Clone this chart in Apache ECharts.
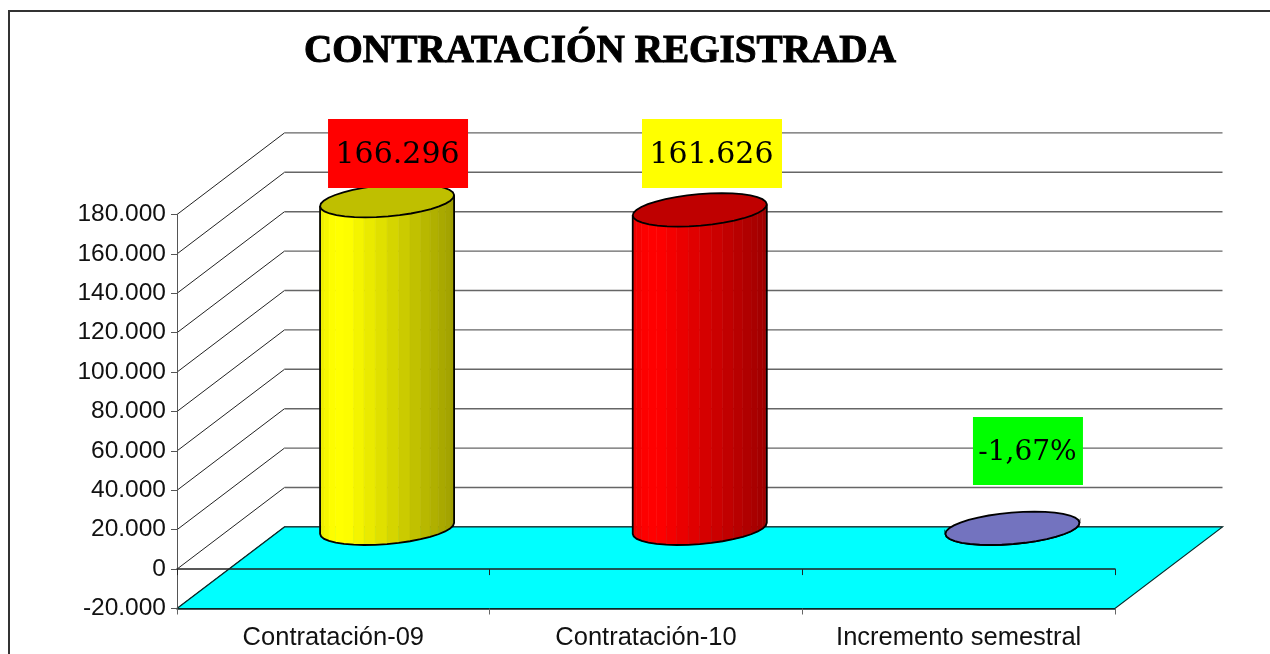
<!DOCTYPE html>
<html><head><meta charset="utf-8">
<style>html,body{margin:0;padding:0;background:#fff}#c{width:1270px;height:654px}</style>
<script src="https://cdn.jsdelivr.net/npm/echarts@6/dist/echarts.min.js"></script>
</head><body><div id="c"></div>
<script>
const titleText = 'CONTRATACIÓN REGISTRADA';
const categories = ['Contratación-09', 'Contratación-10', 'Incremento semestral'];
const values = [166296, 161626, -1.67];
const valueLabels = ['166.296', '161.626', '-1,67%'];
const yTicks = [-20000, 0, 20000, 40000, 60000, 80000, 100000, 120000, 140000, 160000, 180000];
const barColors = [[255, 255, 0], [255, 0, 0], [153, 153, 255]];
const labelColors = ['#ff0000', '#ffff00', '#00ff00'];
const labelBoxSize = [[140, 69], [140, 69], [110, 68]];
const labelOffsets = [[64.7, -88], [66, -97.2], [69.3, -118]];
const labelFontSizes = [30, 30, 28];

const DX = 107.5, DY = 81.6, RX = 63.3, RY = 16.7, SHEAR = 22, FACETS = 18;
const rgb = (c, s) => 'rgb(' + c.map(v => Math.round(v * s)).join(',') + ')';

function ellipsePoint(cx, cy, t) {
  return [cx + RX * Math.cos(t) + SHEAR * Math.sin(t), cy - RY * Math.sin(t)];
}
function shadeAt(f) {
  if (f < 0.1) return 0.92 + 0.8 * f;
  if (f < 0.2) return 1;
  return 1 - 0.38 * (f - 0.2) / 0.8;
}
function renderWall(params, api) {
  const cs = params.coordSys, v = api.value(0);
  const y = api.coord([0, v])[1];
  const x0 = cs.x, x1 = cs.x + cs.width;
  return { type: 'group', children: [
    { type: 'line', shape: { x1: x0, y1: y, x2: x0 + DX, y2: y - DY }, style: { stroke: '#222', lineWidth: 1 } },
    { type: 'line', shape: { x1: x0 + DX, y1: y - DY, x2: x1 + DX, y2: y - DY }, style: { stroke: '#666', lineWidth: 1.4 } }
  ] };
}
function renderFloor(params, api) {
  const cs = params.coordSys;
  const y = api.coord([0, api.value(0)])[1];
  const x0 = cs.x, x1 = cs.x + cs.width;
  return { type: 'polygon',
    shape: { points: [[x0, y], [x1, y], [x1 + DX, y - DY], [x0 + DX, y - DY]] },
    style: { fill: '#00ffff', stroke: '#0a2a2a', lineWidth: 1.2 } };
}
function renderCylinder(params, api) {
  const i = api.value(0), v = api.value(1);
  const color = barColors[i];
  const base = api.coord([i, 0]), top = api.coord([i, v]);
  const cx = base[0] + DX / 2, by = base[1] - DY / 2, ty = top[1] - DY / 2;
  const tr = Math.atan2(SHEAR, RX);
  const halfW = Math.sqrt(RX * RX + SHEAR * SHEAR);
  const children = [];
  const front = [];
  for (let k = 0; k <= FACETS; k++) front.push(ellipsePoint(cx, by, tr + Math.PI + Math.PI * k / FACETS));
  for (let k = 0; k < FACETS; k++) {
    const a = front[k], b = front[k + 1];
    const f = ((a[0] + b[0]) / 2 - (cx - halfW)) / (2 * halfW);
    const fill = rgb(color, shadeAt(f));
    children.push({ type: 'polygon',
      shape: { points: [a, b, [b[0], b[1] - (by - ty)], [a[0], a[1] - (by - ty)]] },
      style: { fill: fill, stroke: fill, lineWidth: 0.6 } });
  }
  const outline = [[front[0][0], front[0][1] - (by - ty)]].concat(front, [[front[FACETS][0], front[FACETS][1] - (by - ty)]]);
  children.push({ type: 'polyline', shape: { points: outline }, style: { fill: null, stroke: '#000', lineWidth: 1.8 } });
  const topPts = [];
  for (let k = 0; k < FACETS * 2; k++) topPts.push(ellipsePoint(cx, ty, Math.PI * k / FACETS));
  children.push({ type: 'polygon', shape: { points: topPts }, style: { fill: rgb(color, 0.75), stroke: '#000', lineWidth: 1.8 } });
  return { type: 'group', children: children };
}
function renderLabel(params, api) {
  const i = api.value(0), v = api.value(1);
  const p = api.coord([i, v]);
  const cx = p[0] + labelOffsets[i][0], cy = p[1] + labelOffsets[i][1];
  const w = labelBoxSize[i][0], h = labelBoxSize[i][1];
  return { type: 'group', children: [
    { type: 'rect', shape: { x: cx - w / 2, y: cy - h / 2, width: w, height: h }, style: { fill: labelColors[i] } },
    { type: 'text', style: { text: valueLabels[i], x: cx - 0.5, y: cy + 2, align: 'center', verticalAlign: 'middle',
        fill: '#000', font: labelFontSizes[i] + 'px "DejaVu Serif"', textShadowColor: '#333', textShadowOffsetX: 1, textShadowOffsetY: 1, textShadowBlur: 0 } }
  ] };
}

const chart = echarts.init(document.getElementById('c'), null, { renderer: 'canvas' });
chart.setOption({
  animation: false,
  backgroundColor: '#fff',
  title: { text: titleText, left: 595, top: 27, textAlign: 'center',
    textStyle: { fontFamily: 'Liberation Serif', fontWeight: 'bold', fontSize: 39.2, color: '#000',
      textBorderColor: '#000', textBorderWidth: 1,
      textShadowColor: '#555', textShadowOffsetX: 1, textShadowOffsetY: 1, textShadowBlur: 0 } },
  grid: { left: 177, right: 155, top: 214.5, bottom: 45.5 },
  graphic: [{ type: 'polyline', silent: true, shape: { points: [[9, 654], [9, 11], [1270, 11]] },
    style: { fill: null, stroke: '#333', lineWidth: 2 } }],
  xAxis: [
    { type: 'category', data: categories, position: 'bottom', z: 3,
      axisLine: { onZero: false, lineStyle: { color: '#0a2a2a', width: 1.5 } },
      axisTick: { show: true, length: 6, lineStyle: { color: '#666' } },
      axisLabel: { interval: 0, margin: 16, color: '#111', fontFamily: 'Liberation Sans', fontSize: 25.5, hideOverlap: false },
      splitLine: { show: false } },
    { type: 'category', data: categories, position: 'bottom', z: 3,
      axisLine: { onZero: true, lineStyle: { color: '#222', width: 1.5 } },
      axisTick: { show: true, length: 6, lineStyle: { color: '#222' } },
      axisLabel: { show: false }, splitLine: { show: false } }
  ],
  yAxis: { type: 'value', min: -20000, max: 180000, interval: 20000, z: 3,
    axisLine: { show: true, onZero: false, lineStyle: { color: '#555' } },
    axisTick: { show: true, length: 6, lineStyle: { color: '#555' } },
    axisLabel: { margin: 11, color: '#111', fontFamily: 'Liberation Sans', fontSize: 24.5,
      formatter: v => String(v).replace(/\B(?=(\d{3})+$)/g, '.') },
    splitLine: { show: false } },
  series: [
    { type: 'custom', name: 'wall', z: 1, silent: true, clip: false, renderItem: renderWall,
      data: yTicks.map(v => [v]), encode: { x: -1, y: 0 }, xAxisIndex: 0 },
    { type: 'custom', name: 'floor', z: 2, silent: true, clip: false, renderItem: renderFloor,
      data: [[yTicks[0]]], encode: { x: -1, y: 0 }, xAxisIndex: 0 },
    { type: 'custom', name: 'cylinders', z: 4, silent: true, clip: false, renderItem: renderCylinder,
      data: values.map((v, i) => [i, v]), encode: { x: 0, y: 1 }, xAxisIndex: 0 },
    { type: 'custom', name: 'labels', z: 5, silent: true, clip: false, renderItem: renderLabel,
      data: values.map((v, i) => [i, v]), encode: { x: 0, y: 1 }, xAxisIndex: 0 }
  ]
});
</script></body></html>
